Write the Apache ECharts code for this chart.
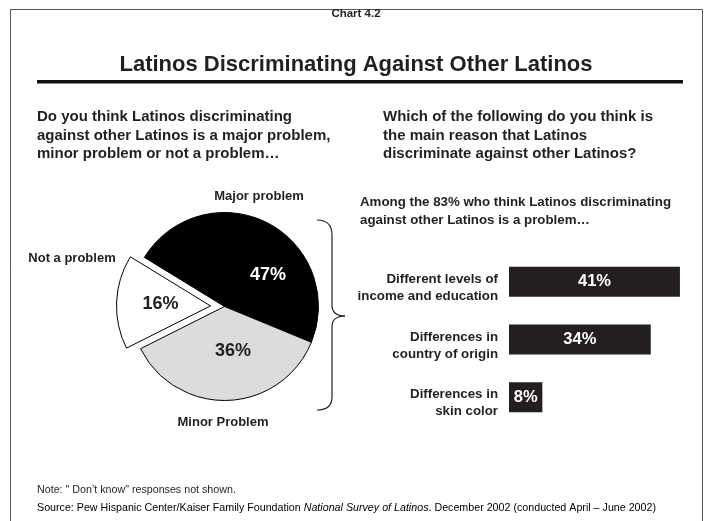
<!DOCTYPE html>
<html><head><meta charset="utf-8">
<script src="https://cdn.jsdelivr.net/npm/echarts@6/dist/echarts.min.js"></script>
<style>html,body{margin:0;padding:0;background:#fff}#c{width:705px;height:521px}</style>
</head><body><div id="c"></div>
<script>
// ---- data ----
const pieCategories = ['Major problem', 'Minor Problem', 'Not a problem'];
const pieValues = [47, 36, 16];
const barCategories = ['Different levels of\nincome and education', 'Differences in\ncountry of origin', 'Differences in\nskin color'];
const barValues = [41, 34, 8];

// ---- styles ----
const FONT = "'Liberation Sans', Arial, Helvetica, sans-serif";
const INK = '#231f20';
const pieColors = ['#000000', '#dcdcdc', '#ffffff'];
const pctLabelColors = ['#ffffff', INK, INK];
const pctLabelPos = [[268, 275], [233, 351], [146, 306.5]];
const nameLabelPos = [[259, 196], [223, 422], [72, 258]];
const PIE_CENTER = [224.5, 306.5];

const chart = echarts.init(document.getElementById('c'), null, {renderer: 'canvas'});

const txt = (x, y, text, size, extra) => Object.assign({
  type: 'text', x: x, y: y, silent: true,
  style: Object.assign({text: text, font: 'bold ' + size + 'px ' + FONT, fill: INK,
    align: 'left', verticalAlign: 'middle'}, extra || {})
});
const braceStyle = {fill: 'none', stroke: '#222222', lineWidth: 1.2};
const qb = (x1, y1, cx, cy, x2, y2) => ({type: 'bezierCurve', silent: true,
  shape: {x1: x1, y1: y1, cpx1: cx, cpy1: cy, x2: x2, y2: y2}, style: braceStyle});
const ln = (x1, y1, x2, y2) => ({type: 'line', silent: true,
  shape: {x1: x1, y1: y1, x2: x2, y2: y2}, style: braceStyle});

chart.setOption({
  animation: false,
  backgroundColor: '#ffffff',
  graphic: [
    {type: 'rect', silent: true, shape: {x: 10.5, y: 9.5, width: 692, height: 540},
      style: {fill: 'none', stroke: '#555555', lineWidth: 1}},
    txt(356, 13.5, 'Chart 4.2', 11.5, {align: 'center'}),
    txt(356, 65, 'Latinos Discriminating Against Other Latinos', 22, {align: 'center'}),
    {type: 'rect', silent: true, shape: {x: 37, y: 80, width: 646, height: 3.5}, style: {fill: '#111111'}},
    {type: 'text', x: 37, y: 107.5, silent: true, style: {
      text: 'Do you think Latinos discriminating\nagainst other Latinos is a major problem,\nminor problem or not a problem…',
      font: 'bold 15px ' + FONT, fill: INK, lineHeight: 18.7, verticalAlign: 'top'}},
    {type: 'text', x: 383, y: 107.5, silent: true, style: {
      text: 'Which of the following do you think is\nthe main reason that Latinos\ndiscriminate against other Latinos?',
      font: 'bold 15px ' + FONT, fill: INK, lineHeight: 18.7, verticalAlign: 'top'}},
    {type: 'text', x: 360, y: 193, silent: true, style: {
      text: 'Among the 83% who think Latinos discriminating\nagainst other Latinos is a problem…',
      font: 'bold 13.3px ' + FONT, fill: INK, lineHeight: 18, verticalAlign: 'top'}},
    qb(317, 220, 332, 220, 332, 235),
    ln(332, 235, 332, 305),
    qb(332, 305, 332, 316, 345, 316),
    qb(345, 316, 332, 316, 332, 327),
    ln(332, 327, 332, 397),
    qb(332, 397, 332, 410, 317, 410),
    {type: 'text', x: 37, y: 490, silent: true, style: {
      text: 'Note: " Don\u2019t know" responses not shown.', font: '10.7px ' + FONT, fill: INK, verticalAlign: 'middle'}},
    {type: 'text', x: 37, y: 508, silent: true, style: {
      text: '{n|Source: Pew Hispanic Center/Kaiser Family Foundation }{i|National Survey of Latinos}{n|. December 2002 (conducted April \u2013 June 2002)}',
      verticalAlign: 'middle',
      rich: {
        n: {fontFamily: FONT, fontSize: 10.7, color: INK},
        i: {fontFamily: FONT, fontSize: 10.7, fontStyle: 'italic', color: INK}
      }}}
  ],
  grid: {left: 509, top: 253, width: 187.6, height: 173},
  xAxis: {type: 'value', min: 0, max: 45, show: false},
  yAxis: {
    type: 'category', data: barCategories, inverse: true,
    axisLine: {show: false}, axisTick: {show: false}, splitLine: {show: false},
    axisLabel: {
      margin: 11, align: 'right',
      formatter: v => '{s| }\n' + v.split('\n').map(l => '{a|' + l + '}').join('\n'),
      rich: {
        s: {fontSize: 1, lineHeight: 12},
        a: {fontFamily: FONT, fontWeight: 'bold', fontSize: 13.3, color: INK, lineHeight: 17, align: 'right'}
      }
    }
  },
  series: [
    {
      type: 'bar', data: barValues, barWidth: 30, silent: true,
      itemStyle: {color: INK},
      label: {show: true, position: 'inside', formatter: '{c}%', color: '#ffffff',
        fontFamily: FONT, fontWeight: 'bold', fontSize: 16.5}
    },
    {
      type: 'pie', center: PIE_CENTER, radius: 94, startAngle: 148.5, clockwise: true,
      selectedMode: 'single', selectedOffset: 14, avoidLabelOverlap: false,
      emphasis: {disabled: true},
      data: pieCategories.map((n, i) => ({
        name: n, value: pieValues[i], selected: i === 2,
        itemStyle: {color: pieColors[i], borderColor: '#000000', borderWidth: 1},
        select: {itemStyle: {color: pieColors[i], borderColor: '#000000', borderWidth: 1}},
        label: {color: pctLabelColors[i]}
      })),
      label: {show: true, position: 'inside', formatter: '{c}%', fontFamily: FONT,
        fontWeight: 'bold', fontSize: 18},
      labelLine: {show: false},
      labelLayout: p => ({x: pctLabelPos[p.dataIndex][0], y: pctLabelPos[p.dataIndex][1],
        align: 'center', verticalAlign: 'middle'})
    },
    {
      type: 'pie', center: PIE_CENTER, radius: 94, startAngle: 148.5, clockwise: true,
      silent: true, selectedMode: false, avoidLabelOverlap: false,
      emphasis: {disabled: true},
      itemStyle: {color: 'rgba(0,0,0,0)', borderWidth: 0},
      data: pieCategories.map((n, i) => ({name: n, value: pieValues[i]})),
      label: {show: true, position: 'outside', formatter: '{b}', fontFamily: FONT,
        fontWeight: 'bold', fontSize: 13, color: INK},
      labelLine: {show: false},
      labelLayout: p => ({x: nameLabelPos[p.dataIndex][0], y: nameLabelPos[p.dataIndex][1],
        align: 'center', verticalAlign: 'middle'})
    }
  ]
});
</script>
</body></html>
